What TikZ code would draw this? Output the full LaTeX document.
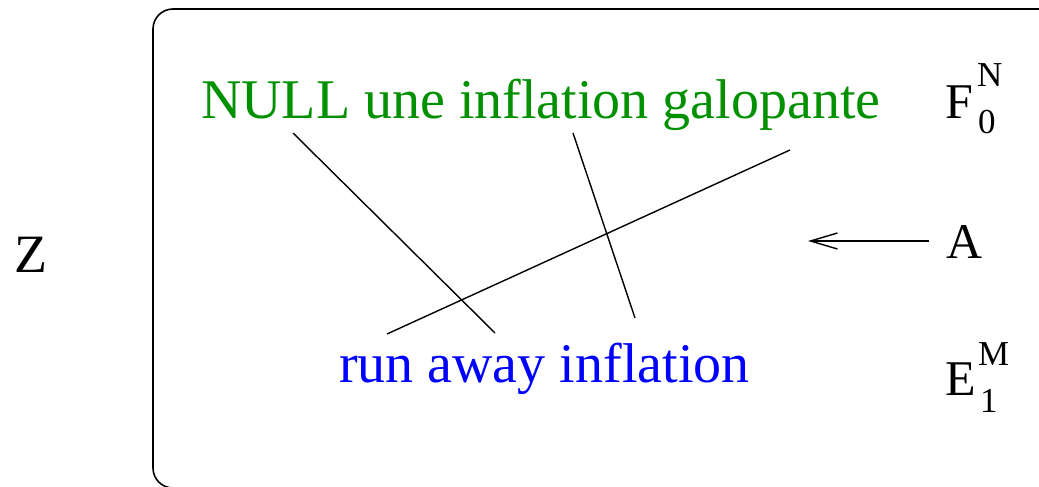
\documentclass[tikz,border=0pt]{standalone}
\usepackage{fontspec}
\newfontfamily\lbs{Liberation Serif}[Ligatures=CommonOff]
\usetikzlibrary{arrows.meta}
\definecolor{figgreen}{RGB}{0,144,0}
\definecolor{figblue}{RGB}{0,0,255}
\begin{document}
\begin{tikzpicture}[x=1pt,y=-1pt,
  lbl/.style={inner sep=0pt,outer sep=0pt,anchor=base west},
  big/.style={lbl,font=\fontsize{56}{60}\selectfont\lbs},
  mid/.style={lbl,font=\fontsize{50}{54}\selectfont\lbs},
  scr/.style={lbl,font=\fontsize{35}{38}\selectfont\lbs},
  conn/.style={line width=1.4pt},
  frame/.style={line width=1.6pt,rounded corners=20pt}]
\useasboundingbox (0,0) rectangle (1039,487);
\node[big,text=figgreen] (null) at (201,118) {NULL une inflation galopante};
\node[big,text=figblue] (run) at (339,382) {run away inflation};
\node[lbl,font=\fontsize{54}{58}\selectfont\lbs] (z) at (14,272) {Z};
\node[mid] (a) at (946,258) {A};
\node[mid] (f) at (945,118) {F};
\node[scr] (fn) at (977,87) {N};
\node[scr] (f0) at (978,133) {0};
\node[mid] (e) at (945,395) {E};
\node[scr] (em) at (978,365) {M};
\node[scr] (e1) at (980,412) {1};
\draw[frame] (153,9) rectangle (1080,488);
\coordinate (l1a) at (293,133);
\coordinate (l1b) at (495,333);
\coordinate (l2a) at (573,133);
\coordinate (l2b) at (635,318);
\coordinate (l3a) at (790,150);
\coordinate (l3b) at (387,334);
\coordinate (arrs) at (929,241);
\coordinate (arre) at (808,241);
\draw[conn] (l1a) -- (l1b);
\draw[conn] (l2a) -- (l2b);
\draw[conn] (l3a) -- (l3b);
\draw[conn,-{Straight Barb[length=27pt,width=16pt,line width=1.4pt]}] (arrs) -- (arre);
\end{tikzpicture}
\end{document}
